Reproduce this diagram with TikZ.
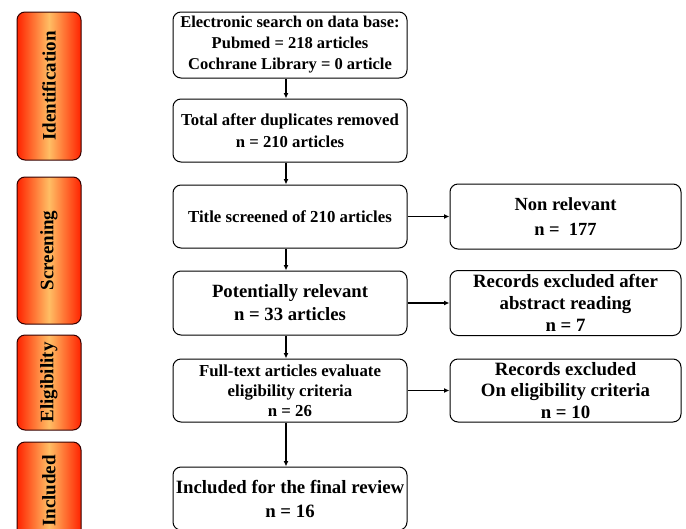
\documentclass[tikz,border=0pt]{standalone}
\usepackage{fontspec}
\setmainfont{Liberation Serif}
\usetikzlibrary{arrows.meta, positioning}

\definecolor{stageedge}{RGB}{255,35,0}
\definecolor{stagemid}{RGB}{255,190,100}

\begin{document}
\begin{tikzpicture}[
    x=1pt, y=1pt, >={Latex[length=5.5pt,width=5pt]}, line width=1pt,
    flowbox/.style={draw, rounded corners=8pt, align=center,
        minimum width=234pt, inner sep=2pt, font=\bfseries},
    sidebox/.style={draw, rounded corners=8pt, align=center,
        minimum width=231pt, inner sep=2pt, font=\bfseries},
    stagebox/.style={draw=black!80!red, rounded corners=8pt,
        minimum width=64pt, inner sep=0pt,
        left color=stageedge, right color=stageedge, middle color=stagemid,
        font=\fontsize{19}{22}\selectfont\bfseries},
    link/.style={->, line width=1.4pt}
  ]
  \useasboundingbox (0,0) rectangle (686,-528);
  \clip (0,0) rectangle (686,-528);

  % stages on the left
  \node[stagebox, minimum height=148pt] (ident) at (49,-86)
    {\rotatebox{90}{Identification}};
  \node[stagebox, minimum height=147pt] (screen) at (49,-250.5)
    {\rotatebox{90}{Screening}};
  \node[stagebox, minimum height=95pt] (elig) at (49,-382.5)
    {\rotatebox{90}{Eligibility}};
  \node[stagebox, minimum height=98pt] (incl) at (49,-491)
    {\rotatebox{90}{Included}};

  % main column
  \node[flowbox, minimum height=66pt, font=\fontsize{16.5}{21}\selectfont\bfseries]
    (search) at (290,-45)
    {Electronic search on data base:\\Pubmed = 218 articles\\Cochrane Library = 0 article};
  \node[flowbox, minimum height=63pt, below=20pt of search,
        font=\fontsize{16.7}{22}\selectfont\bfseries] (dupl)
    {Total after duplicates removed\\n = 210 articles};
  \node[flowbox, minimum height=63pt, below=22pt of dupl,
        font=\fontsize{16.8}{21}\selectfont\bfseries] (title)
    {Title screened of 210 articles};
  \node[flowbox, minimum height=64pt, below=22pt of title,
        font=\fontsize{18.7}{23}\selectfont\bfseries] (relev)
    {Potentially relevant\\n = 33 articles};
  \node[flowbox, minimum height=63pt, below=23pt of relev,
        font=\fontsize{16.8}{20}\selectfont\bfseries] (full)
    {Full-text articles evaluate\\eligibility criteria\\n = 26};
  \node[flowbox, minimum height=63pt, below=44pt of full,
        font=\fontsize{18.8}{24}\selectfont\bfseries] (final)
    {Included for the final review\\n = 16};

  % excluded records
  \node[sidebox, minimum height=65pt, right=42pt of title,
        font=\fontsize{18.5}{25}\selectfont\bfseries] (nonrel)
    {Non relevant\\n = \ 177};
  \node[sidebox, minimum height=65pt, right=42pt of relev,
        font=\fontsize{18.8}{21.7}\selectfont\bfseries] (abstr)
    {Records excluded after\\abstract reading\\n = 7};
  \node[sidebox, minimum height=63pt, right=42pt of full,
        font=\fontsize{18.8}{21.7}\selectfont\bfseries] (crit)
    {Records excluded\\On eligibility criteria\\n = 10};

  \draw[link] ([xshift=-4pt]search.south) -- ([xshift=-4pt]dupl.north);
  \draw[link] ([xshift=-4pt]dupl.south) -- ([xshift=-4pt]title.north);
  \draw[link] ([xshift=-4pt]title.south) -- ([xshift=-4pt]relev.north);
  \draw[link] ([xshift=-4pt]relev.south) -- ([xshift=-4pt]full.north);
  \draw[link] ([xshift=-4pt]full.south) -- ([xshift=-4pt]final.north);
  \draw[link] (title) -- (nonrel);
  \draw[link] (relev) -- (abstr);
  \draw[link] (full) -- (crit);
\end{tikzpicture}
\end{document}
